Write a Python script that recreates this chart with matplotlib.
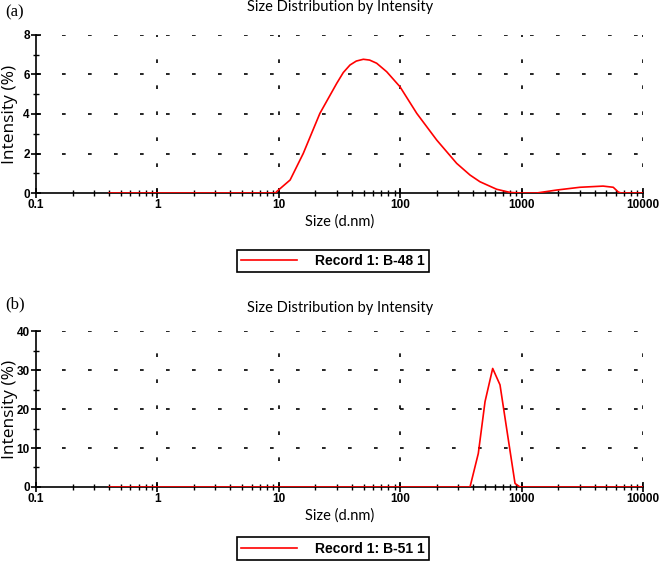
import numpy as np
import matplotlib
matplotlib.use('Agg')
import matplotlib.pyplot as plt
from matplotlib.ticker import LogLocator, FixedLocator, NullFormatter

# panel (a) - B-48
size_a = [0.4, 9.4, 9.6, 12.4, 15.9, 21.8, 26.5, 30.0, 34.0, 38.6, 43.5, 49.7, 56.0, 64.0,
          77.4, 99.6, 137, 200, 292, 376, 454, 623, 803, 970,
          1331, 1945, 3020, 4690, 5690, 6260, 6600, 10000]
int_a = [0, 0, 0.07, 0.66, 2.0, 4.03, 4.96, 5.55, 6.1, 6.48, 6.68, 6.77, 6.73, 6.57,
         6.14, 5.38, 4.03, 2.68, 1.50, 0.91, 0.57, 0.19, 0.03, 0,
         0, 0.15, 0.29, 0.35, 0.29, 0.05, 0, 0]

# panel (b) - B-51
size_b = [0.4, 376, 440, 500, 578, 664, 778, 883, 970, 10000]
int_b = [0, 0, 8.6, 21.9, 30.4, 26.2, 12.1, 0.9, 0, 0]

xticks = [0.1, 1, 10, 100, 1000, 10000]
xticklabels = ['0.1', '1', '10', '100', '1000', '10000']

fig = plt.figure(figsize=(6.59, 5.67), dpi=100)

panels = [
    ([0.0546, 0.6596, 0.9211, 0.2787], size_a, int_a, 8, [0, 2, 4, 6, 8], [1, 3, 5, 7],
     '(a)', 'Record 1: B-48 1', 0.9876, 0.5397, 0.6226, 0.9788),
    ([0.0546, 0.1411, 0.9211, 0.2751], size_b, int_b, 40, [0, 10, 20, 30, 40], [5, 15, 25, 35],
     '(b)', 'Record 1: B-51 1', 0.4568, 0.0326, 0.1041, 0.4639),
]

grid_ls = (0, (2.2, 13.4))
for rect, xs, ys, ymax, yt, ymin_t, tag, lab, ttl_y, leg_y, xl_y, tag_y in panels:
    ax = fig.add_axes(rect)
    ax.set_xscale('log')
    ax.set_xlim(0.1, 10000)
    ax.set_ylim(0, ymax)
    ax.spines['top'].set_visible(False)
    ax.spines['right'].set_visible(False)
    ax.spines['left'].set_linewidth(1.2)
    ax.spines['bottom'].set_linewidth(1.2)
    ax.set_xticks(xticks)
    ax.set_xticklabels(xticklabels)
    ax.xaxis.set_minor_locator(LogLocator(base=10, subs=np.arange(2, 10), numticks=20))
    ax.xaxis.set_minor_formatter(NullFormatter())
    ax.set_yticks(yt)
    ax.yaxis.set_minor_locator(FixedLocator(ymin_t))
    ax.tick_params(which='major', direction='inout', length=7, width=1.2,
                   labelsize=8.5, pad=1)
    ax.tick_params(which='minor', direction='inout', length=4, width=1)
    for t in ax.get_xticklabels() + ax.get_yticklabels():
        t.set_fontfamily('Liberation Sans')
        t.set_fontweight('bold')
    for yv in yt[1:]:
        ax.axhline(yv, color='black', lw=1.2, ls=grid_ls, zorder=1)
    for xv in xticks[1:]:
        ax.axvline(xv, color='black', lw=1.2, ls=grid_ls, zorder=1)
    line, = ax.plot(xs, ys, color='red', lw=1.2, zorder=3, label=lab)
    ax.set_ylabel('Intensity (%)', family='Open Sans', fontsize=12.5)
    ax.yaxis.set_label_coords(-0.03, 0.5)
    ax.set_xlabel('Size (d.nm)', family='Lato', fontsize=10.5)
    ax.xaxis.set_label_coords(0.5, (xl_y - rect[1]) / rect[3])
    fig.text(0.516, ttl_y, 'Size Distribution by Intensity', family='Lato',
             fontsize=10.5, ha='center', va='center')
    fig.text(0.008, tag_y, tag, family='Liberation Serif', fontsize=12, ha='left', va='center')
    leg = ax.legend(handles=[line], loc='center', bbox_to_anchor=(0.505, leg_y),
                    bbox_transform=fig.transFigure, fancybox=False, framealpha=1,
                    edgecolor='black', handlelength=4.0, handletextpad=1.3,
                    borderpad=0.3, prop={'family': 'Liberation Sans', 'weight': 'bold', 'size': 10})
    leg.get_frame().set_linewidth(1.2)

fig.savefig('out.png', dpi=100)
